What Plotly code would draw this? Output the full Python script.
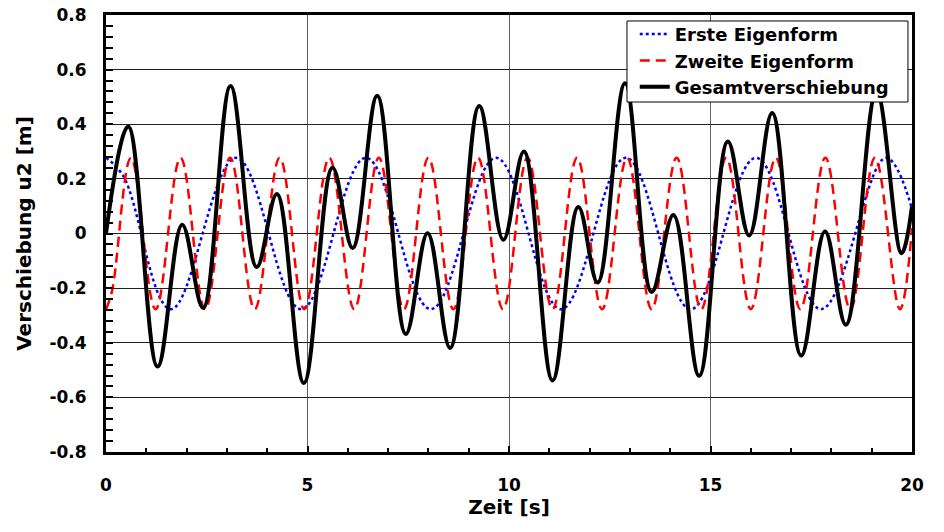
import plotly.graph_objects as go

# ---- data ----
# Erste Eigenform (blue, dotted): extrema (and one early reading)
t_erste = [0.00, 0.43, 1.61, 3.23, 4.84, 6.45, 8.06, 9.68, 11.29, 12.90,
           14.51, 16.13, 17.74, 19.35, 20.00]
u_erste = [0.277, 0.21, -0.277, 0.277, -0.277, 0.277, -0.277, 0.277, -0.277,
           0.277, -0.277, 0.277, -0.277, 0.277, 0.09]

# Zweite Eigenform (red, dashed): extrema
t_zweite = [0.00, 0.15, 0.62, 1.23, 1.85, 2.46, 3.08, 3.69, 4.31, 4.92, 5.54,
            6.16, 6.77, 7.39, 8.00, 8.62, 9.23, 9.85, 10.46, 11.08, 11.69,
            12.31, 12.93, 13.54, 14.16, 14.77, 15.39, 16.00, 16.62, 17.23,
            17.85, 18.47, 19.08, 19.70, 20.00]
u_zweite = [-0.277, -0.21, 0.277, -0.277, 0.277, -0.277, 0.277, -0.277, 0.277,
            -0.277, 0.277, -0.277, 0.277, -0.277, 0.277, -0.277, 0.277,
            -0.277, 0.277, -0.277, 0.277, -0.277, 0.277, -0.277, 0.277,
            -0.277, 0.277, -0.277, 0.277, -0.277, 0.277, -0.277, 0.277,
            -0.277, 0.02]

# Gesamtverschiebung (black, solid): extrema
t_gesamt = [0.00, 0.55, 1.28, 1.89, 2.41, 3.09, 3.74, 4.24, 4.91, 5.62, 6.12,
            6.73, 7.44, 7.98, 8.54, 9.26, 9.86, 10.37, 11.08, 11.72, 12.20,
            12.88, 13.54, 14.08, 14.72, 15.43, 15.96, 16.53, 17.25, 17.84,
            18.36, 19.12, 19.74, 20.00]
u_gesamt = [0.00, 0.392, -0.487, 0.032, -0.273, 0.540, -0.123, 0.145, -0.547,
            0.241, -0.053, 0.504, -0.368, 0.001, -0.419, 0.467, -0.023, 0.300,
            -0.538, 0.097, -0.179, 0.550, -0.214, 0.068, -0.521, 0.337, -0.007,
            0.441, -0.447, 0.007, -0.334, 0.52, -0.072, 0.10]

x_ticks = [0, 5, 10, 15, 20]
y_ticks = [-0.8, -0.6, -0.4, -0.2, 0.0, 0.2, 0.4, 0.6, 0.8]
y_ticktext = ["-0.8", "-0.6", "-0.4", "-0.2", "0", "0.2", "0.4", "0.6", "0.8"]

FONT = "DejaVu Sans, Liberation Sans, Arial, sans-serif"

fig = go.Figure()
fig.add_trace(go.Scatter(
    x=t_erste, y=u_erste, mode="lines", name="Erste Eigenform",
    line=dict(color="#0000FF", width=2.5, dash="dot", shape="spline", smoothing=1.1)))
fig.add_trace(go.Scatter(
    x=t_zweite, y=u_zweite, mode="lines", name="Zweite Eigenform",
    line=dict(color="#FF0000", width=2.5, dash="10px,6px", shape="spline", smoothing=1.1)))
fig.add_trace(go.Scatter(
    x=t_gesamt, y=u_gesamt, mode="lines", name="Gesamtverschiebung",
    line=dict(color="#000000", width=4, shape="spline", smoothing=1.1)))

# legend frame (white box covering the curves, as in the reference)
fig.add_shape(type="rect", xref="paper", yref="paper",
              x0=0.6464, x1=0.995, y0=0.8009, y1=0.9863,
              line=dict(color="black", width=1), fillcolor="white", layer="above")

fig.update_layout(
    width=944, height=532,
    margin=dict(l=106, r=32, t=15, b=80, autoexpand=False),
    paper_bgcolor="white", plot_bgcolor="white",
    font=dict(family=FONT, size=17, color="black", weight="bold"),
    showlegend=True,
    legend=dict(
        x=0.656, y=0.998, xanchor="left", yanchor="top",
        bgcolor="rgba(0,0,0,0)", borderwidth=0,
        font=dict(family=FONT, size=18, color="black", weight="bold"),
        itemwidth=30, tracegroupgap=0,
    ),
    xaxis=dict(
        range=[0, 20], tickvals=x_ticks, ticktext=[str(v) for v in x_ticks],
        ticks="inside", ticklen=6, tickwidth=2, tickcolor="black",
        showline=True, linewidth=3, linecolor="black", mirror=True,
        showgrid=True, gridcolor="#606060", gridwidth=1, zeroline=False,
        automargin=False, ticklabeloverflow="allow",
        minor=dict(dtick=1, tick0=0, ticks="inside", ticklen=4, tickwidth=2,
                   tickcolor="black", showgrid=False),
        tickfont=dict(family=FONT, size=17, weight="bold"),
        ticklabelstandoff=16,
        title=dict(text="Zeit [s]", font=dict(family=FONT, size=20, weight="bold"), standoff=3),
    ),
    yaxis=dict(
        range=[-0.8, 0.8], tickvals=y_ticks, ticktext=y_ticktext,
        ticks="inside", ticklen=7, tickwidth=2, tickcolor="black",
        showline=True, linewidth=3, linecolor="black", mirror=True,
        showgrid=True, gridcolor="#202020", gridwidth=1, zeroline=False,
        automargin=False, ticklabeloverflow="allow",
        minor=dict(dtick=0.04, tick0=-0.8, ticks="inside", ticklen=7, tickwidth=2,
                   tickcolor="black", showgrid=False),
        tickfont=dict(family=FONT, size=17, weight="bold"),
        ticklabelstandoff=13,
        title=dict(text="Verschiebung u2 [m]", font=dict(family=FONT, size=20, weight="bold"), standoff=13),
    ),
)

# remove the default page margin so the 944x532 figure fills the window exactly
fig.write_html("out.html", config={"displayModeBar": False},
               post_script="document.body.style.margin='0';")
